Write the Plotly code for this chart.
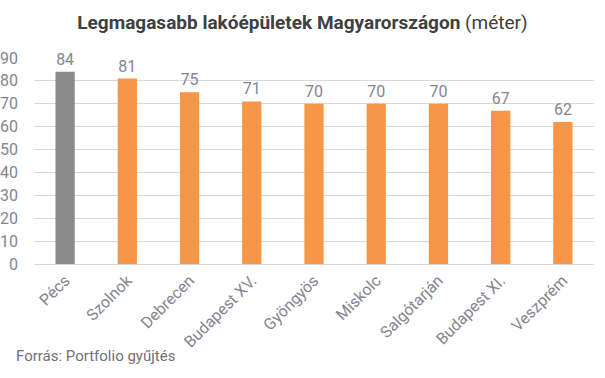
import plotly.graph_objects as go

categories = ["Pécs", "Szolnok", "Debrecen", "Budapest XV.", "Gyöngyös", "Miskolc", "Salgótarján", "Budapest XI.", "Veszprém"]
values = [84, 81, 75, 71, 70, 70, 70, 67, 62]
colors = ["#8C8C8C"] + ["#F79646"] * 8
y_ticks = [0, 10, 20, 30, 40, 50, 60, 70, 80, 90]

W, H = 605, 378
fig = go.Figure(go.Bar(
    x=categories, y=values, marker=dict(color=colors, line=dict(width=0)),
    text=[str(v) for v in values], textposition="outside", cliponaxis=False,
    textfont=dict(family="Roboto", size=16, color="#858590"),
    hoverinfo="skip",
))

fig.update_layout(
    width=W, height=H, margin=dict(l=34, r=11, t=58, b=114, autoexpand=False),
    paper_bgcolor="white", plot_bgcolor="white", bargap=0.69, showlegend=False,
    title=dict(text="<b>Legmagasabb lakóépületek Magyarországon</b> (méter)", x=0.5, xanchor="center",
               xref="container", y=1 - 22 / H, yanchor="middle",
               font=dict(family="Roboto", size=19, color="#404040")),
    xaxis=dict(tickangle=-45, tickfont=dict(family="Roboto", size=16, color="#858590"),
               showgrid=False, showline=True, linecolor="#d9d9d9", ticks="", automargin=False),
    yaxis=dict(range=[0, 90], tickvals=y_ticks, showgrid=True, gridcolor="#d9d9d9",
               zeroline=False, tickfont=dict(family="Roboto", size=16, color="#858590"),
               ticklabelstandoff=15, automargin=False),
    annotations=[dict(text="Forrás: Portfolio gyűjtés", xref="paper", yref="paper",
                      x=-20 / 560, y=-92 / 206, xanchor="left", yanchor="middle", showarrow=False,
                      font=dict(family="Roboto", size=15, color="#707078"))],
)
fig.write_html("out.html", config={"displayModeBar": False},
               post_script="document.body.style.margin='0';document.body.style.overflow='hidden';")
